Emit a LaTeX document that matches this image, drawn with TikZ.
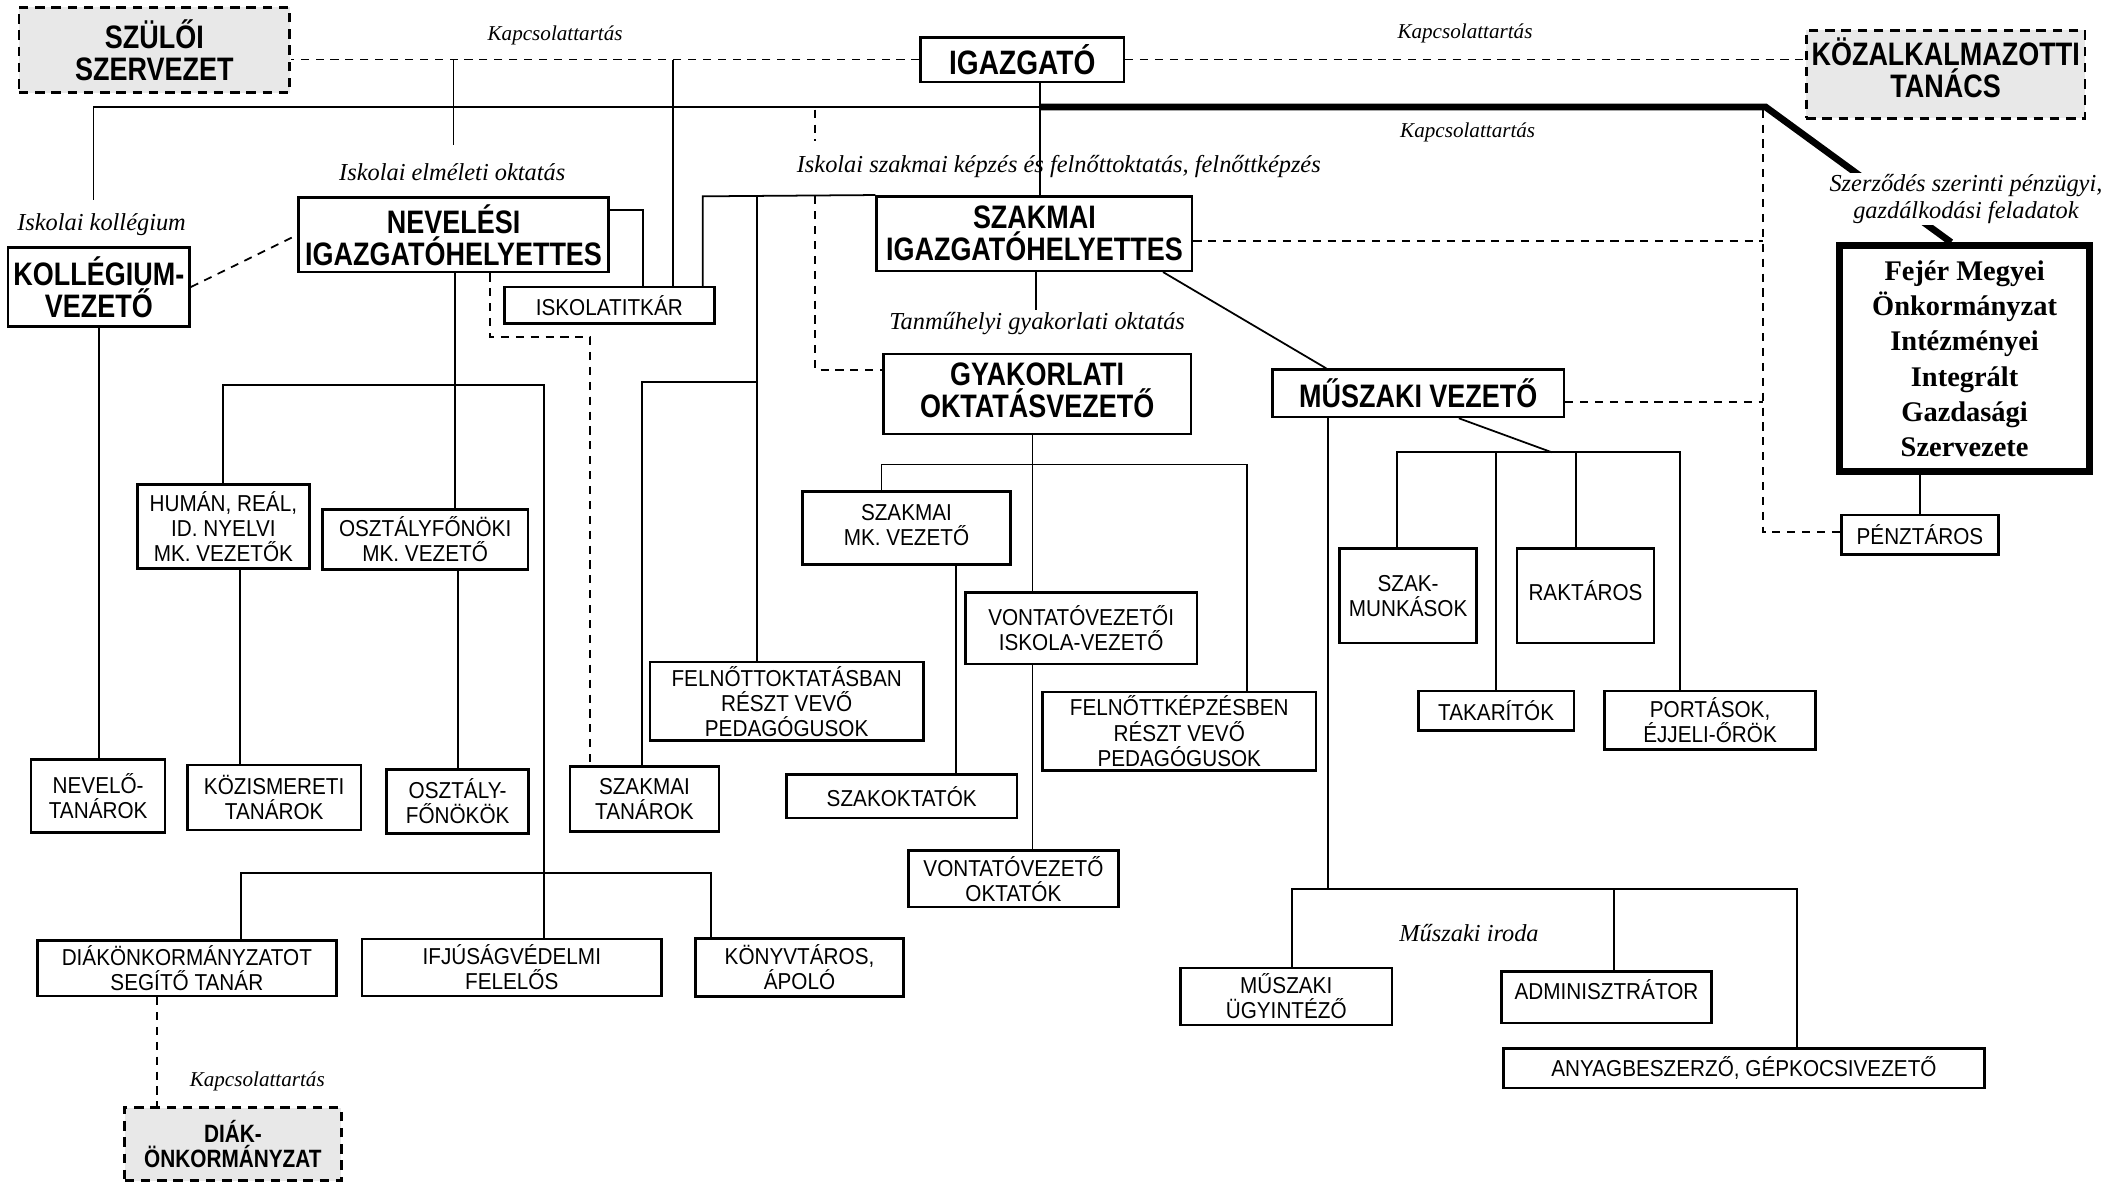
\documentclass[tikz,border=0pt]{standalone}
\usepackage{fontspec}
\setmainfont{Liberation Sans}
\newfontfamily\headsans[FakeStretch=0.83]{Liberation Sans}
\newfontfamily\boxsans[FakeStretch=0.9]{Liberation Sans}
\newfontfamily\noteserif{Liberation Serif}

\begin{document}
\begin{tikzpicture}[x=1pt,y=-1pt]
\tikzstyle{head} = [rectangle, draw, line width=1.9pt, align=center, inner sep=0pt,
font=\headsans\bfseries\fontsize{24}{23.5}\selectfont]
\tikzstyle{box} = [rectangle, draw, line width=1.9pt, align=center, inner sep=0pt,
font=\boxsans\fontsize{17}{18.5}\selectfont]
\tikzstyle{partner} = [head, fill=gray!18, dash pattern=on 7pt off 5pt, line width=2pt]
\tikzstyle{note} = [align=center, inner sep=1pt, font=\noteserif\itshape\fontsize{18}{20}\selectfont]
\tikzstyle{contact} = [note, font=\noteserif\itshape\fontsize{15.6}{17}\selectfont]
\tikzstyle{line} = [draw, line width=1.3pt]
\tikzstyle{link} = [draw, line width=1.3pt, dash pattern=on 6pt off 5pt]
\tikzstyle{spine} = [draw, line width=5pt]

\useasboundingbox (0,0) rectangle (1568,875);

% top row
\node [partner, minimum width=200pt, minimum height=63pt] (szuloi) at (114,37) {SZÜLŐI\\SZERVEZET};
\node [head, minimum width=150pt, minimum height=33pt,
font=\headsans\bfseries\fontsize{25}{26}\selectfont] (igazgato) at (755,44) {IGAZGATÓ};
\node [partner, minimum width=206pt, minimum height=65pt, text depth=10pt] (kozalk) at (1437,55) {KÖZALKALMAZOTTI\\TANÁCS};

% deputies
\node [head, minimum width=134pt, minimum height=58pt] (kollegium) at (73,212) {KOLLÉGIUM-\\VEZETŐ};
\node [head, minimum width=229pt, minimum height=55pt] (nevelesi) at (335,173.5) {NEVELÉSI\\IGAZGATÓHELYETTES};
\node [box, minimum width=155pt, minimum height=27pt] (titkar) at (450,225.5) {ISKOLATITKÁR};
\node [head, minimum width=233pt, minimum height=55pt] (szakmai) at (764,172.5) {SZAKMAI\\IGAZGATÓHELYETTES};
\node [head, minimum width=227pt, minimum height=59pt, text depth=6pt] (gyak) at (766,291) {GYAKORLATI\\OKTATÁSVEZETŐ};
\node [head, minimum width=215pt, minimum height=35pt] (muszaki) at (1047.5,290.5) {MŰSZAKI VEZETŐ};
\node [rectangle, draw, line width=5pt, minimum width=185pt, minimum height=167pt, align=center,
font=\noteserif\bfseries\fontsize{21}{26}\selectfont] (fejer) at (1451,265)
{Fejér Megyei\\Önkormányzat\\Intézményei\\Integrált\\Gazdasági\\Szervezete};
\node [box, minimum width=116pt, minimum height=29pt] (penztaros) at (1418,395) {PÉNZTÁROS};

% middle
\node [box, minimum width=127pt, minimum height=62pt] (human) at (165,389) {HUMÁN, REÁL,\\ID. NYELVI\\MK. VEZETŐK};
\node [box, minimum width=152pt, minimum height=44pt] (osztfon) at (314,398.5) {OSZTÁLYFŐNÖKI\\MK. VEZETŐ};
\node [box, minimum width=154pt, minimum height=54pt, text depth=5pt] (szakmk) at (669.5,390) {SZAKMAI\\MK. VEZETŐ};
\node [box, minimum width=171pt, minimum height=53pt] (vontisk) at (798.5,464) {VONTATÓVEZETŐI\\ISKOLA-VEZETŐ};
\node [box, minimum width=202pt, minimum height=58pt] (felnokt) at (581,518) {FELNŐTTOKTATÁSBAN\\RÉSZT VEVŐ\\PEDAGÓGUSOK};
\node [box, minimum width=202pt, minimum height=58pt] (felnkep) at (871,540) {FELNŐTTKÉPZÉSBEN\\RÉSZT VEVŐ\\PEDAGÓGUSOK};
\node [box, minimum width=101pt, minimum height=70pt] (szakmunk) at (1040,440) {SZAK-\\MUNKÁSOK};
\node [box, minimum width=101pt, minimum height=70pt, text depth=8pt] (raktaros) at (1171,440) {RAKTÁROS};
\node [box, minimum width=115pt, minimum height=29pt] (takarito) at (1105,525) {TAKARÍTÓK};
\node [box, minimum width=156pt, minimum height=43pt] (portas) at (1263,532) {PORTÁSOK,\\ÉJJELI-ŐRÖK};

% lower row
\node [box, minimum width=99pt, minimum height=54pt] (nevtan) at (72.5,588) {NEVELŐ-\\TANÁROK};
\node [box, minimum width=128pt, minimum height=48pt] (kozism) at (202.5,589) {KÖZISMERETI\\TANÁROK};
\node [box, minimum width=105pt, minimum height=47pt] (osztaly) at (338,592) {OSZTÁLY-\\FŐNÖKÖK};
\node [box, minimum width=110pt, minimum height=48pt] (szaktan) at (476,590) {SZAKMAI\\TANÁROK};
\node [box, minimum width=170pt, minimum height=32pt] (szakokt) at (666,588) {SZAKOKTATÓK};
\node [box, minimum width=155pt, minimum height=42pt] (vontokt) at (748.5,649) {VONTATÓVEZETŐ\\OKTATÓK};

% bottom
\node [box, minimum width=221pt, minimum height=41pt] (diak) at (138,715) {DIÁKÖNKORMÁNYZATOT\\SEGÍTŐ TANÁR};
\node [box, minimum width=221pt, minimum height=42pt] (ifju) at (378,714.5) {IFJÚSÁGVÉDELMI\\FELELŐS};
\node [box, minimum width=154pt, minimum height=43pt] (konyv) at (590.5,714.5) {KÖNYVTÁROS,\\ÁPOLÓ};
\node [partner, minimum width=160pt, minimum height=54pt,
font=\headsans\bfseries\fontsize{18.5}{18}\selectfont] (diakonk) at (172,845) {DIÁK-\\ÖNKORMÁNYZAT};
\node [box, minimum width=156pt, minimum height=42pt] (muszugy) at (950,736) {MŰSZAKI\\ÜGYINTÉZŐ};
\node [box, minimum width=155pt, minimum height=38pt, text depth=12pt] (admin) at (1186.5,736.5) {ADMINISZTRÁTOR};
\node [box, minimum width=355pt, minimum height=29pt] (anyag) at (1288,789) {ANYAGBESZERZŐ, GÉPKOCSIVEZETŐ};

% labels
\node [contact] (kapcsa) at (410,26) {Kapcsolattartás};
\node [contact] (kapcsb) at (1082,25) {Kapcsolattartás};
\node [contact] (kapcsc) at (1084,98) {Kapcsolattartás};
\node [contact] (kapcsd) at (190,799) {Kapcsolattartás};
\node [note] (elmlab) at (334,127) {Iskolai elméleti oktatás};
\node [note] (kollab) at (75,166) {Iskolai kollégium};
\node [note] (szaklab) at (782,123) {Iskolai szakmai képzés és felnőttoktatás, felnőttképzés};
\node [note] (tanlab) at (766,239) {Tanműhelyi gyakorlati oktatás};
\node [note] (irodalab) at (1085,689) {Műszaki iroda};

% main line
\coordinate (hub) at (768,79);
\coordinate (west) at (69,79);
\coordinate (bend) at (1304,79);
\coordinate (kt) at (69,148);
\path [link] (igazgato.west) -- (igazgato.west -| szuloi.east);
\path [link] (igazgato.east) -- (igazgato.east -| kozalk.west);
\path [line] (west) -- (hub);
\path [line] (west) -- (kt);
\path [line] (igazgato.south -| hub) -- (szakmai.north -| hub);
\path [spine] (hub) -- (bend) -- ([xshift=-10pt]fejer.north);
\node [note, fill=white] (szerzlab) at (1452,147)
{Szerződés szerinti pénzügyi,\\gazdálkodási feladatok};

% stubs from the top
\coordinate (sa) at (335,44);
\coordinate (sae) at (335,107);
\coordinate (sb) at (497,44);
\coordinate (da) at (602,81);
\coordinate (dae) at (602,104);
\path [line] (sa) -- (sae);
\path [line] (sb) -- (sb |- titkar.north);
\path [link] (da) -- (dae);

% around the secretary
\coordinate (sl) at (519,145);
\coordinate (fa) at (559,145);
\coordinate (nr) at (475,155);
\path [line] (szakmai.north west) -- (sl) -- (sl |- titkar.north);
\path [line] (fa) -- (fa |- felnokt.north);
\path [line] (nevelesi.east |- nr) -- (nr) -- (nr |- titkar.north);
\coordinate (db) at (602,145);
\coordinate (dbe) at (602,273);
\path [link] (db) -- (dbe) -- (dbe -| gyak.west);
\path [link] (kollegium.east) -- (nevelesi.west);

% nevelesi tree
\coordinate (nb) at (336,284.5);
\coordinate (nbl) at (164.5,284.5);
\coordinate (nbr) at (402,284.5);
\coordinate (bl) at (178,644.5);
\coordinate (br) at (525,644.5);
\coordinate (hk) at (177,0);
\path [line] (nevelesi.south -| nb) -- (osztfon.north -| nb);
\path [line] (human.north -| nbl) -- (nbl) -- (nbr) -- (nbr |- ifju.north);
\path [line] (diak.north -| bl) -- (bl) -- (br) -- (br |- konyv.north);
\path [line] (kollegium.south) -- (kollegium.south |- nevtan.north);
\path [line] (human.south -| hk) -- (kozism.north -| hk);
\path [line] (osztaly.north) -- (osztaly.north |- osztfon.south);
\coordinate (nd) at (362,249);
\coordinate (nde) at (436,249);
\path [link] (nevelesi.south -| nd) -- (nd) -- (nde) -- (nde |- szaktan.north);
\coordinate (st) at (474,282);
\path [line] (szaktan.north -| st) -- (st) -- (st -| fa);
\path [link] ([xshift=-22pt]diak.south) -- ([xshift=-22pt]diak.south |- diakonk.north);

% szakmai tree
\coordinate (sg) at (765,229);
\path [line] (szakmai.south -| sg) -- (sg);
\path [line] ([xshift=95pt]szakmai.south) -- ([xshift=-68pt]muszaki.north);
\coordinate (gb) at (762.5,343);
\coordinate (gbl) at (651,343);
\coordinate (gbr) at (921,343);
\coordinate (sk) at (706,0);
\path [line] (gyak.south -| gb) -- (vontisk.north -| gb);
\path [line] (szakmk.north -| gbl) -- (gbl) -- (gbr) -- (gbr |- felnkep.north);
\path [line] (szakmk.south -| sk) -- (szakokt.north -| sk);
\path [line] (vontisk.south -| gb) -- (vontokt.north -| gb);

% muszaki tree
\coordinate (mc) at (1146,334);
\coordinate (mcl) at (1032,334);
\coordinate (mcr) at (1241,334);
\coordinate (mt) at (1105,334);
\coordinate (mr) at (1164,334);
\path [line] ([xshift=30pt]muszaki.south) -- (mc);
\path [line] (szakmunk.north -| mcl) -- (mcl) -- (mcr) -- (mcr |- portas.north);
\path [line] (mt) -- (mt |- takarito.north);
\path [line] (mr) -- (mr |- raktaros.north);
\coordinate (mb) at (981,656.5);
\coordinate (mbl) at (954,656.5);
\coordinate (mbr) at (1327,656.5);
\coordinate (ma) at (1192,656.5);
\path [line] (muszaki.south -| mb) -- (mb);
\path [line] (muszugy.north -| mbl) -- (mbl) -- (mbr) -- (mbr |- anyag.north);
\path [line] (ma) -- (ma |- admin.north);

% economic office
\coordinate (dr) at (1302,81);
\coordinate (dre) at (1302,393);
\coordinate (dm) at (1302,178);
\coordinate (dn) at (1302,297);
\path [link] (dr) -- (dre) -- (dre -| penztaros.west);
\path [link] (dm -| szakmai.east) -- (dm);
\path [link] (dn -| muszaki.east) -- (dn);
\path [line] (penztaros.north) -- (penztaros.north |- fejer.south);

\end{tikzpicture}
\end{document}
